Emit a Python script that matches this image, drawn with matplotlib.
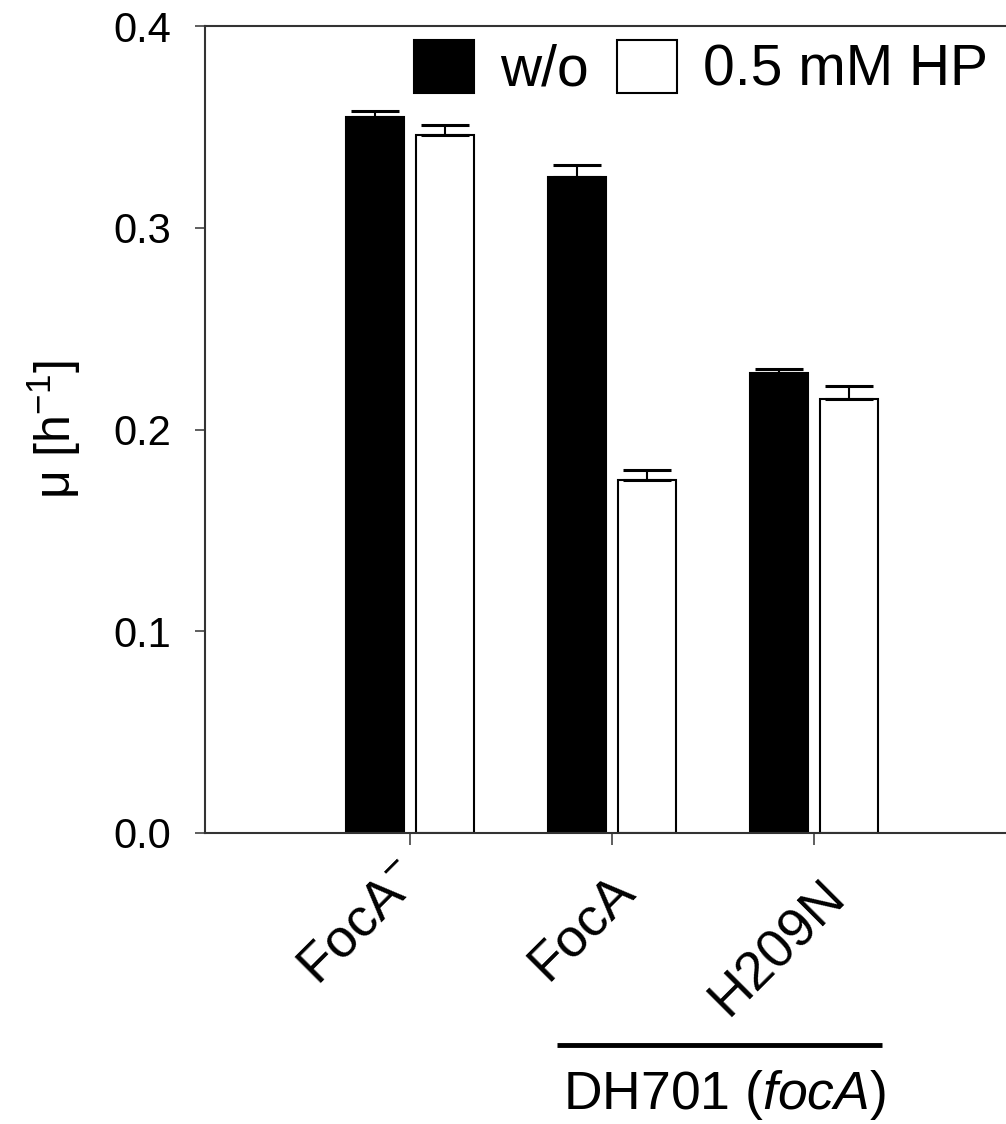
import matplotlib
matplotlib.use("Agg")
import matplotlib.pyplot as plt
from matplotlib.transforms import ScaledTranslation
import numpy as np

plt.rcParams['font.family'] = ['Liberation Sans', 'DejaVu Sans']
plt.rcParams['mathtext.fontset'] = 'custom'
plt.rcParams['mathtext.rm'] = 'Liberation Sans'
plt.rcParams['mathtext.it'] = 'Liberation Sans:italic'
plt.rcParams['mathtext.default'] = 'regular'

categories = ["FocA$^{-}$", "FocA", "H209N"]
wo_values = [0.355, 0.325, 0.228]
wo_errors = [0.003, 0.006, 0.002]
hp_values = [0.346, 0.175, 0.215]
hp_errors = [0.005, 0.005, 0.0066]
legend_labels = ["w/o", "0.5 mM HP"]
yticks = [0.0, 0.1, 0.2, 0.3, 0.4]
ylabel = "μ [h$^{-1}$]"
group_label = "DH701 ($\\mathit{focA}$)"

fig = plt.figure(figsize=(10.06, 11.24), dpi=100)
ax = fig.add_axes([205/1006, 291/1124, 801/1006, 807/1124])

x = np.arange(len(categories))
w = 0.287
off = 0.1745
spine_c = '#333333'

ax.bar(x - off, wo_values, width=w, color='black', edgecolor='black', linewidth=1.5,
       label=legend_labels[0], zorder=2)
ax.bar(x + off, hp_values, width=w, color='white', edgecolor='black', linewidth=1.5,
       label=legend_labels[1], zorder=2)
ax.errorbar(x - off, wo_values, yerr=[np.zeros(len(x)), wo_errors], fmt='none',
            ecolor='black', elinewidth=1.5, capsize=17, capthick=2.2, zorder=3)
ax.errorbar(x + off, hp_values, yerr=[np.zeros(len(x)), hp_errors], fmt='none',
            ecolor='black', elinewidth=1.5, capsize=17, capthick=2.2, zorder=3)

ax.set_xlim(-1.0149, 2.950)
ax.set_ylim(0, 0.4)
ax.set_yticks(yticks)
ax.set_yticklabels([f"{v:.1f}" for v in yticks], fontsize=30)
ax.set_xticks(x)
ax.set_xticklabels(categories, fontsize=39, rotation=45, ha='right', rotation_mode='anchor')
ax.tick_params(axis='y', direction='out', length=7.2, width=1.1, pad=17, colors=spine_c,
               labelcolor='black')
ax.tick_params(axis='x', direction='out', length=8.5, width=1.1, pad=22, colors=spine_c,
               labelcolor='black')

# fine offsets (pixels: right, up) of the rotated category labels
label_shift = [(-15, 22), (-3, 11), (6, 5)]
for lbl, (dx, dy) in zip(ax.get_xticklabels(), label_shift):
    lbl.set_transform(lbl.get_transform() + ScaledTranslation(dx/100, dy/100, fig.dpi_scale_trans))

for s in ['left', 'bottom', 'top']:
    ax.spines[s].set_linewidth(1.5)
    ax.spines[s].set_color(spine_c)
ax.spines['right'].set_visible(False)

ax.set_ylabel(ylabel, fontsize=36)
ax.yaxis.set_label_coords(-0.152, 0.5)

ax.legend(loc='center left', bbox_to_anchor=(414/1006, 1 - 69/1124),
          bbox_transform=fig.transFigure, ncol=2, frameon=False, fontsize=41,
          handlelength=1.05, handleheight=1.05, handletextpad=0.46, columnspacing=0.50,
          borderpad=0, borderaxespad=0)

trans = ax.get_xaxis_transform()
ax.plot([0.728, 2.337], [-0.263, -0.263], color='black', linewidth=3.5,
        transform=trans, clip_on=False, solid_capstyle='butt')
ax.text(1.554, -0.325, group_label, transform=trans, ha='center', va='center', fontsize=38.5)

fig.savefig("out.png", dpi=100)
